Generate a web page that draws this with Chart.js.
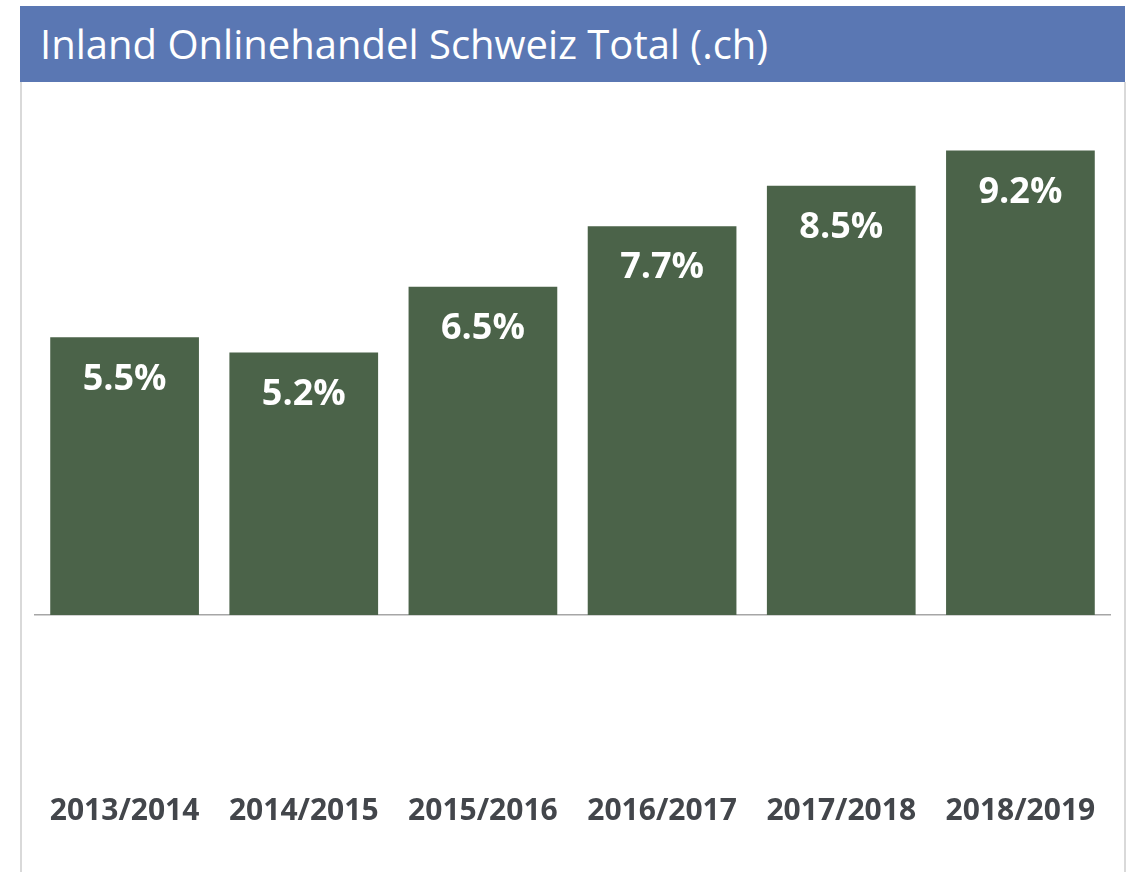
<!DOCTYPE html>
<html>
<head>
<meta charset="utf-8">
<script src="https://cdn.jsdelivr.net/npm/chart.js@4"></script>
<style>
  body { margin: 0; background: #fff; }
  #wrap { position: relative; width: 1130px; height: 872px; overflow: hidden; }
  #frame { position: absolute; left: 20px; top: 82px; width: 1102px; height: 800px;
           border-left: 2px solid #d9d9d9; border-right: 2px solid #d9d9d9; }
  #title { position: absolute; left: 20px; top: 6px; width: 1105px; height: 76px;
           background: #5a77b3; color: #fff; font-family: "Open Sans", sans-serif;
           font-size: 40px; line-height: 76px; padding-left: 20px; box-sizing: border-box; }
  #chart { position: absolute; left: 0; top: 0; }
</style>
</head>
<body>
<div id="wrap">
  <div id="frame"></div>
  <div id="title">Inland Onlinehandel Schweiz Total (.ch)</div>
  <canvas id="chart" width="1130" height="872"></canvas>
</div>
<script>
// data
const years = ['2013/2014', '2014/2015', '2015/2016', '2016/2017', '2017/2018', '2018/2019'];
const shares = [5.5, 5.2, 6.5, 7.7, 8.5, 9.2];

// white value labels inside the top of each bar
const barLabels = {
  id: 'barLabels',
  afterDatasetsDraw(chart) {
    const ctx = chart.ctx;
    const meta = chart.getDatasetMeta(0);
    ctx.save();
    ctx.fillStyle = '#ffffff';
    ctx.font = 'bold 36px "Open Sans", sans-serif';
    ctx.textAlign = 'center';
    ctx.textBaseline = 'middle';
    meta.data.forEach((bar, i) => {
      ctx.fillText(shares[i].toFixed(1) + '%', bar.x, bar.y + 42);
    });
    ctx.restore();
  }
};

new Chart(document.getElementById('chart').getContext('2d'), {
  type: 'bar',
  data: {
    labels: years,
    datasets: [{
      data: shares,
      backgroundColor: '#4b6349',
      categoryPercentage: 1,
      barPercentage: 0.83
    }]
  },
  options: {
    responsive: false,
    animation: false,
    layout: { padding: { left: 35, right: 20, top: 110, bottom: 47 } },
    plugins: { legend: { display: false }, tooltip: { enabled: false } },
    scales: {
      x: {
        grid: { display: false, drawTicks: false },
        border: { display: true, color: '#a6a6a6', width: 1.5 },
        ticks: {
          padding: 178,
          maxRotation: 0,
          color: '#43464b',
          font: { family: '"Open Sans", sans-serif', size: 30, weight: 'bold' }
        },
        // keep the big label gap from squeezing the plot sideways
        afterFit(scale) {
          scale.paddingLeft = 0;
          scale.paddingRight = 0;
          scale.height = 210;
        }
      },
      y: { display: false, min: 0, max: 10 }
    }
  },
  plugins: [barLabels]
});
</script>
</body>
</html>
